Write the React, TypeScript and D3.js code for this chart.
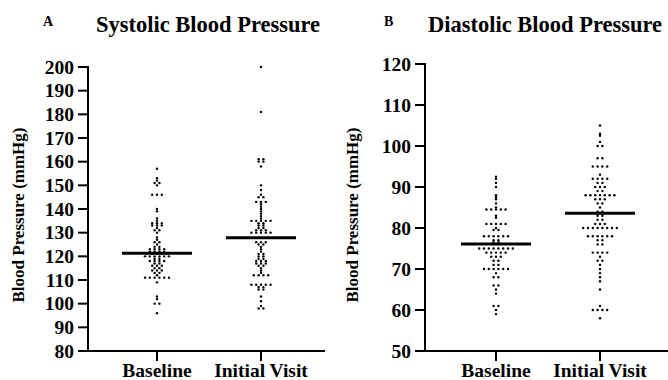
import { scaleLinear, scalePoint, group } from "d3";

const categories = ["Baseline", "Initial Visit"];

// Systolic (mmHg)
const systolicBaseline = [
  157, 153, 152, 151, 151, 150, 146, 146, 146, 140, 139, 136, 135, 134, 134, 134, 133, 133, 133,
  132, 131, 131, 130, 128, 127, 126, 126, 125, 124, 124, 123, 123, 123, 123, 122, 122, 122, 122,
  121, 121, 121, 121, 121, 120, 120, 120, 120, 120, 120, 119, 119, 118, 118, 118, 118, 117, 117,
  116, 116, 116, 115, 115, 114, 114, 114, 113, 113, 112, 111, 111, 111, 111, 111, 111, 109, 103,
  102, 100, 100, 96,
];
const systolicInitial = [
  200, 181, 161, 161, 160, 160, 158, 150, 148, 146, 145, 145, 143, 143, 143, 142, 141, 140, 139,
  138, 137, 136, 135, 135, 135, 135, 135, 134, 134, 133, 133, 132, 132, 131, 131, 131, 130, 130,
  130, 130, 130, 126, 126, 126, 125, 125, 124, 123, 122, 121, 121, 120, 120, 119, 119, 118, 118,
  118, 117, 117, 117, 116, 116, 115, 114, 113, 112, 112, 112, 112, 108, 108, 108, 108, 108, 107,
  107, 106, 106, 103, 101, 99, 98, 98,
];
const systolicMeans = [121.3, 127.9];

// Diastolic (mmHg)
const diastolicBaseline = [
  92.5, 92, 91, 90, 88, 87.5, 87, 86, 85, 84.5, 84.5, 84.5, 84.5, 84.5, 83, 82.5, 81, 81, 81, 81,
  81, 80, 79.5, 79.5, 78, 78, 78, 78, 78, 78, 77, 77, 76.5, 76.5, 75, 75, 75, 75, 75, 75, 75, 75,
  74, 74, 74, 74, 74, 73, 73, 73, 72, 72, 71, 71, 70, 70, 70, 70, 70, 70, 69, 68, 68, 66, 66, 65,
  64, 61, 61, 60, 59,
];
const diastolicInitial = [
  105, 103, 102.5, 101, 100, 100, 97, 97, 95, 95, 95, 95, 93, 92, 92, 92, 92, 91, 91, 90, 90, 90,
  89, 89, 88, 88, 88, 88, 88, 88, 88, 87, 87, 87, 86, 86, 85, 84, 84, 83, 83, 82, 82, 81, 81, 81,
  80, 80, 80, 80, 80, 80, 80, 80, 78, 78, 78, 78, 78, 78, 77, 77, 76, 76, 74, 74, 74, 74, 73, 72,
  72, 71, 70, 69, 68, 67, 65, 61, 60, 60, 60, 60, 58,
];
const diastolicMeans = [76.1, 83.6];

const FONT = "Liberation Serif";

interface PanelProps {
  letter: string;
  title: string;
  groups: number[][];
  means: number[];
  domain: [number, number];
  tickCount: number;
  letterX: number;
  titleX: number;
  axisX: number;
  axisEnd: number;
  yTop: number;
  yBottom: number;
  catRange: [number, number];
  labelX: number;
}

function Panel({
  letter,
  title,
  groups,
  means,
  domain,
  tickCount,
  letterX,
  titleX,
  axisX,
  axisEnd,
  yTop,
  yBottom,
  catRange,
  labelX,
}: PanelProps) {
  const y = scaleLinear().domain(domain).range([yBottom, yTop]);
  const x = scalePoint<string>().domain(categories).range(catRange);
  const ticks = y.ticks(tickCount);
  const spacing = 4.8;

  return (
    <g fontFamily={FONT} fontWeight="bold" fill="#000">
      <text x={letterX} y={26} fontSize={14}>{letter}</text>
      <text x={titleX} y={32} fontSize={22.5} textAnchor="middle">{title}</text>
      <text
        transform={`translate(${labelX},215) rotate(-90)`}
        textAnchor="middle"
        dominantBaseline="middle"
        fontSize={17}
      >
        Blood Pressure (mmHg)
      </text>

      {/* y axis */}
      <line x1={axisX} x2={axisX} y1={yTop - 1} y2={yBottom + 1} stroke="#000" strokeWidth={2} />
      {ticks.map((t) => (
        <g key={t}>
          <line x1={axisX - 10} x2={axisX} y1={y(t)} y2={y(t)} stroke="#000" strokeWidth={2} />
          <text x={axisX - 14} y={y(t)} dy="0.34em" textAnchor="end" fontSize={19.5}>
            {t}
          </text>
        </g>
      ))}

      {/* x axis */}
      <line x1={axisX - 1} x2={axisEnd} y1={yBottom} y2={yBottom} stroke="#000" strokeWidth={2} />
      {categories.map((c) => (
        <g key={c}>
          <line x1={x(c)} x2={x(c)} y1={yBottom} y2={yBottom + 10} stroke="#000" strokeWidth={2} />
          <text x={x(c)} y={377} textAnchor="middle" fontSize={19.5}>{c}</text>
        </g>
      ))}

      {/* dots */}
      {groups.map((vals, gi) => {
        const cx = x(categories[gi]) ?? 0;
        const rows = group(vals, (v) => v);
        const dots: { px: number; py: number }[] = [];
        rows.forEach((arr, v) => {
          const n = arr.length;
          arr.forEach((_, i) => {
            dots.push({ px: cx + (i - (n - 1) / 2) * spacing, py: y(v) });
          });
        });
        return (
          <g key={gi}>
            {dots.map((d, i) => (
              <circle key={i} cx={d.px} cy={d.py} r={1.2} fill="#000" />
            ))}
          </g>
        );
      })}

      {/* mean lines */}
      {means.map((m, gi) => {
        const cx = x(categories[gi]) ?? 0;
        return (
          <line key={gi} x1={cx - 35} x2={cx + 35} y1={y(m)} y2={y(m)} stroke="#000" strokeWidth={3} />
        );
      })}
    </g>
  );
}

export default function App() {
  return (
    <svg
      width={668}
      height={380}
      style={{ position: "absolute", left: 0, top: 0, background: "#fff" }}
    >
      <rect width={668} height={380} fill="#fff" />
      <Panel
        letter="A"
        title="Systolic Blood Pressure"
        groups={[systolicBaseline, systolicInitial]}
        means={systolicMeans}
        domain={[80, 200]}
        tickCount={12}
        letterX={43}
        titleX={208}
        axisX={88}
        axisEnd={325}
        yTop={67}
        yBottom={351}
        catRange={[157, 261]}
        labelX={20}
      />
      <Panel
        letter="B"
        title="Diastolic Blood Pressure"
        groups={[diastolicBaseline, diastolicInitial]}
        means={diastolicMeans}
        domain={[50, 120]}
        tickCount={7}
        letterX={384}
        titleX={545}
        axisX={425}
        axisEnd={668}
        yTop={64}
        yBottom={351}
        catRange={[496, 600]}
        labelX={354}
      />
    </svg>
  );
}
